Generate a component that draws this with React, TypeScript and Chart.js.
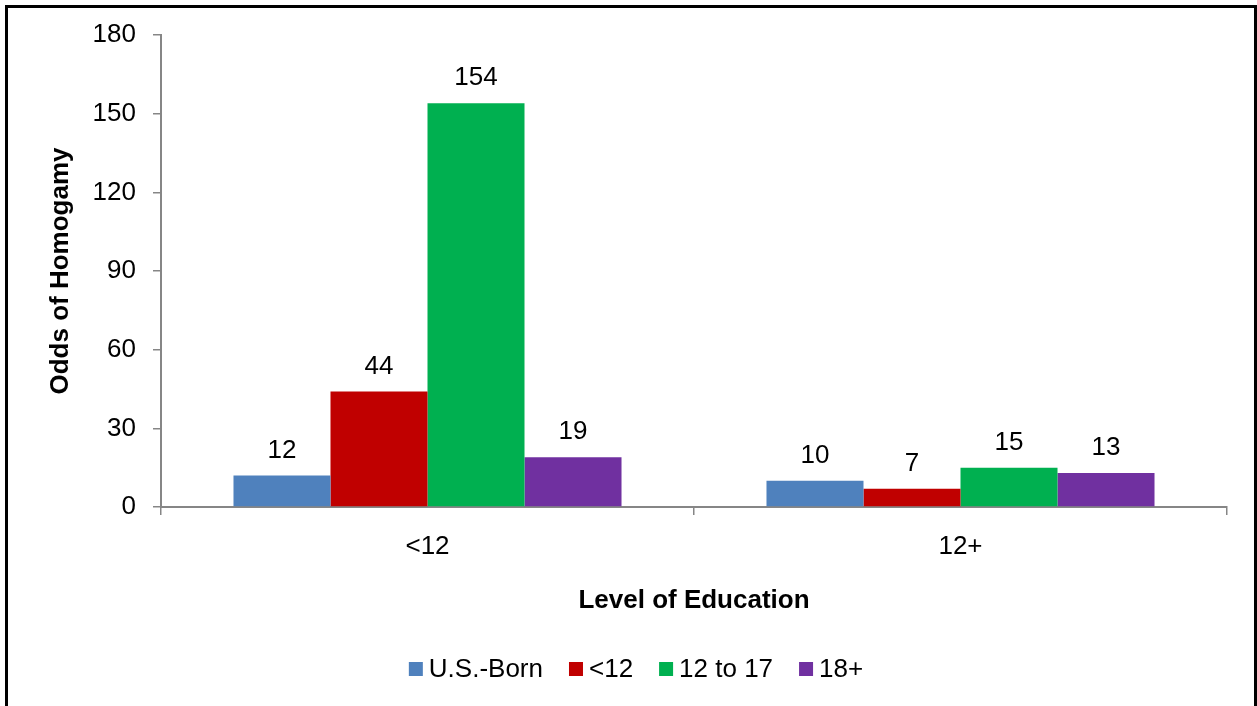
import React, { useEffect, useRef } from "react";
import { Chart, registerables } from "chart.js";

Chart.register(...registerables);

// Education groups on the x axis
const categories = ["<12", "12+"];
// Series (spouse's education / nativity)
const seriesNames = ["U.S.-Born", "<12", "12 to 17", "18+"];
const usBorn = [12, 10];
const lessThan12 = [44, 7];
const twelveTo17 = [154, 15];
const eighteenPlus = [19, 13];
const seriesColors = ["#4F81BD", "#C00000", "#00B050", "#7030A0"];
// Y axis range
const yMin = 0;
const yMax = 180;
const yStep = 30;

const FONT = '"Liberation Sans", Arial, sans-serif';
const AXIS_GREY = "#868686";
const TEXT_SIZE = 26;

// Value labels above each bar
const valueLabels = {
  id: "valueLabels",
  afterDatasetsDraw(chart: any) {
    const ctx = chart.ctx;
    ctx.save();
    ctx.font = `${TEXT_SIZE}px ${FONT}`;
    ctx.fillStyle = "#000";
    ctx.textAlign = "center";
    ctx.textBaseline = "alphabetic";
    chart.data.datasets.forEach((ds: any, i: number) => {
      const meta = chart.getDatasetMeta(i);
      meta.data.forEach((bar: any, j: number) => {
        ctx.fillText(String(ds.data[j]), bar.x, bar.y - 18);
      });
    });
    ctx.restore();
  },
};

// Legend row drawn below the axis title
const bottomLegend = {
  id: "bottomLegend",
  afterDraw(chart: any) {
    const ctx = chart.ctx;
    const box = 14;
    const textGap = 6;
    const itemGap = 26;
    const centerX = 636;
    const centerY = 669;
    ctx.save();
    ctx.font = `${TEXT_SIZE}px ${FONT}`;
    const widths = chart.data.datasets.map(
      (ds: any) => box + textGap + ctx.measureText(ds.label).width
    );
    const total =
      widths.reduce((a: number, b: number) => a + b, 0) +
      itemGap * (widths.length - 1);
    let x = centerX - total / 2;
    ctx.textBaseline = "middle";
    ctx.textAlign = "left";
    chart.data.datasets.forEach((ds: any, i: number) => {
      ctx.fillStyle = ds.backgroundColor;
      ctx.fillRect(x, centerY - box / 2, box, box);
      ctx.fillStyle = "#000";
      ctx.fillText(ds.label, x + box + textGap, centerY + 1);
      x += widths[i] + itemGap;
    });
    ctx.restore();
  },
};

export default function App() {
  const canvasRef = useRef<HTMLCanvasElement | null>(null);

  useEffect(() => {
    if (!canvasRef.current) return;
    const seriesValues = [usBorn, lessThan12, twelveTo17, eighteenPlus];
    const chart = new Chart(canvasRef.current, {
      type: "bar",
      data: {
        labels: categories,
        datasets: seriesNames.map((name, i) => ({
          label: name,
          data: seriesValues[i],
          backgroundColor: seriesColors[i],
          borderWidth: 0,
          categoryPercentage: 0.728,
          barPercentage: 1,
        })),
      },
      options: {
        animation: false,
        responsive: true,
        maintainAspectRatio: false,
        layout: {
          padding: { left: 0, right: 30, top: 35, bottom: 90 },
        },
        plugins: {
          legend: { display: false },
          tooltip: { enabled: false },
        },
        scales: {
          x: {
            grid: {
              offset: true,
              drawOnChartArea: false,
              drawTicks: true,
              tickLength: 8,
              color: AXIS_GREY,
              lineWidth: 1.5,
            },
            border: { display: true, color: AXIS_GREY, width: 2 },
            ticks: {
              color: "#000",
              font: { family: FONT, size: TEXT_SIZE },
              padding: 16,
            },
            title: {
              display: true,
              text: "Level of Education",
              color: "#000",
              font: { family: FONT, size: TEXT_SIZE, weight: "bold" },
              padding: { top: 0, bottom: 0 },
            },
            afterFit(scale: any) {
              scale.height = 109;
            },
          },
          y: {
            min: yMin,
            max: yMax,
            ticks: {
              stepSize: yStep,
              color: "#000",
              font: { family: FONT, size: TEXT_SIZE },
              padding: 17,
            },
            grid: {
              drawOnChartArea: false,
              drawTicks: true,
              tickLength: 8,
              color: AXIS_GREY,
              lineWidth: 1.5,
            },
            border: { display: true, color: AXIS_GREY, width: 2 },
            title: {
              display: true,
              text: "Odds of Homogamy",
              color: "#000",
              font: { family: FONT, size: TEXT_SIZE, weight: "bold" },
              padding: { top: 45, bottom: 0 },
            },
            afterFit(scale: any) {
              scale.width = 161;
            },
          },
        },
      },
      plugins: [valueLabels, bottomLegend],
    });
    return () => chart.destroy();
  }, []);

  return (
    <div
      style={{
        position: "absolute",
        left: 0,
        top: 0,
        width: 1257,
        height: 706,
        background: "#fff",
        overflow: "hidden",
      }}
    >
      <canvas ref={canvasRef} />
      <div
        style={{
          position: "absolute",
          left: 5,
          top: 5,
          width: 1252,
          height: 720,
          border: "3px solid #000",
          boxSizing: "border-box",
          pointerEvents: "none",
        }}
      />
    </div>
  );
}
